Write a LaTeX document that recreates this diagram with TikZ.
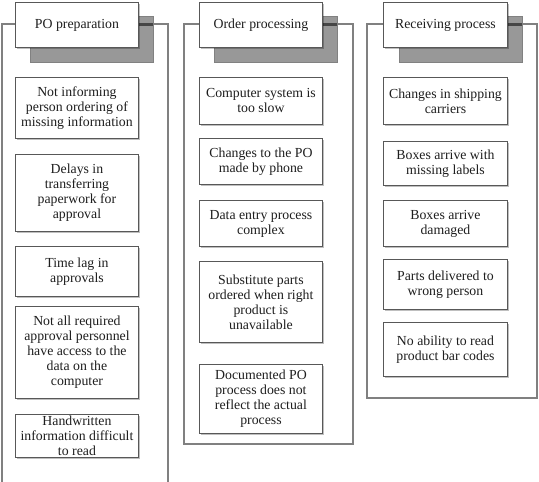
\documentclass[tikz,border=0pt]{standalone}
\usepackage{fontspec}
\setmainfont{Liberation Serif}
\usetikzlibrary{shadows}
\definecolor{framecol}{RGB}{128,128,128}
\definecolor{boxcol}{RGB}{88,88,88}
\definecolor{shadecol}{RGB}{152,152,152}
\definecolor{stripcol}{RGB}{70,70,70}
\definecolor{txtcol}{RGB}{30,30,30}
\begin{document}
\begin{tikzpicture}[x=1pt,y=-1pt,
  frameline/.style={draw=framecol, line width=1.1pt},
  shadebox/.style={fill=shadecol, draw=shadecol!85!black, line width=0.5pt},
  strip/.style={draw=stripcol, line width=2.2pt},
  basebox/.style={draw=boxcol, fill=white, line width=0.9pt, inner sep=0pt,
    anchor=north west, align=center, text=txtcol,
    font=\fontsize{13.8}{15}\selectfont,
    drop shadow={shadow xshift=1.2pt, shadow yshift=-1.2pt, fill=black, opacity=0.25}},
  titlebox/.style={basebox, minimum width=123pt, minimum height=45pt},
  itembox/.style={basebox, minimum width=123pt}
]
\useasboundingbox (0,0) rectangle (539,482);
\clip (0,0) rectangle (539,482);

% ---------- Column 1 ----------
\coordinate (f1a) at (2,500); \coordinate (f1b) at (2,24);
\coordinate (f1c) at (168,24); \coordinate (f1d) at (168,500);
\draw[frameline] (f1a) -- (f1b) -- (f1c) -- (f1d);
\path[shadebox] (30,16) rectangle (153,62);
\coordinate (s1a) at (138,24.5); \coordinate (s1b) at (153,24.5);
\draw[strip] (s1a) -- (s1b);
\node[titlebox] (t1) at (15,2) {PO preparation};
\node[itembox, minimum height=61pt] (a1) at (15,77) {Not informing\\person ordering of\\missing information};
\node[itembox, minimum height=77pt] (a2) at (15,154) {Delays in\\transferring\\paperwork for\\approval};
\node[itembox, minimum height=50pt] (a3) at (15,246) {Time lag in\\approvals};
\node[itembox, minimum height=92pt] (a4) at (15,306) {Not all required\\approval personnel\\have access to the\\data on the\\computer};
\node[itembox, minimum height=43pt] (a5) at (15,414) {Handwritten\\information difficult\\to read};

% ---------- Column 2 ----------
\draw[frameline] (184,24) rectangle (353,444);
\path[shadebox] (214,16) rectangle (337,62);
\coordinate (s2a) at (322,24.5); \coordinate (s2b) at (337,24.5);
\draw[strip] (s2a) -- (s2b);
\node[titlebox] (t2) at (199,2) {Order processing};
\node[itembox, minimum height=47pt] (b1) at (199,77) {Computer system is\\too slow};
\node[itembox, minimum height=46pt] (b2) at (199,138) {Changes to the PO\\made by phone};
\node[itembox, minimum height=46pt] (b3) at (199,200) {Data entry process\\complex};
\node[itembox, minimum height=81pt] (b4) at (199,261) {Substitute parts\\ordered when right\\product is\\unavailable};
\node[itembox, minimum height=69pt] (b5) at (199,364) {Documented PO\\process does not\\reflect the actual\\process};

% ---------- Column 3 ----------
\draw[frameline] (367,24) rectangle (537,398);
\path[shadebox] (399,16) rectangle (522,62);
\coordinate (s3a) at (507,24.5); \coordinate (s3b) at (522,24.5);
\draw[strip] (s3a) -- (s3b);
\node[titlebox, minimum width=124pt] (t3) at (383,2) {Receiving process};
\node[itembox, minimum width=124pt, minimum height=47pt] (c1) at (383,77) {Changes in shipping\\carriers};
\node[itembox, minimum width=124pt, minimum height=44pt] (c2) at (383,141) {Boxes arrive with\\missing labels};
\node[itembox, minimum width=124pt, minimum height=46pt] (c3) at (383,200) {Boxes arrive\\damaged};
\node[itembox, minimum width=124pt, minimum height=50pt] (c4) at (383,259) {Parts delivered to\\wrong person};
\node[itembox, minimum width=124pt, minimum height=54pt] (c5) at (383,322) {No ability to read\\product bar codes};
\end{tikzpicture}
\end{document}
